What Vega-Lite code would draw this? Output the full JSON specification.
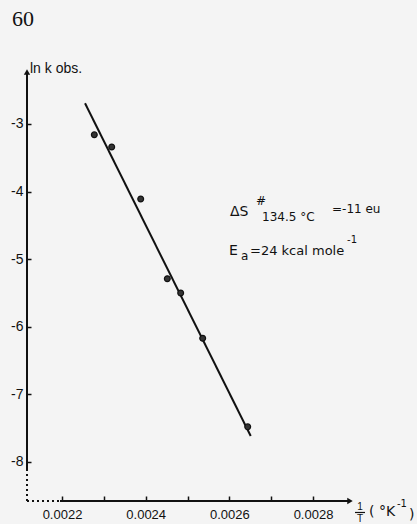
{
  "$schema": "https://vega.github.io/schema/vega-lite/v6.json",
  "width": 326,
  "height": 433,
  "autosize": {"type": "none"},
  "padding": {"left": 27, "top": 68, "right": 64, "bottom": 23},
  "background": "#f4f4f4",
  "config": {"view": {"stroke": null}, "font": "Liberation Sans"},
  "datasets": {
    "points": [
      {"x": 0.0022772, "y": -3.16},
      {"x": 0.0023188, "y": -3.34},
      {"x": 0.0023881, "y": -4.11},
      {"x": 0.0024517, "y": -5.29},
      {"x": 0.0024837, "y": -5.50},
      {"x": 0.0025363, "y": -6.17},
      {"x": 0.0026439, "y": -7.48}
    ],
    "fit": [
      {"x": 0.002255, "y": -2.694},
      {"x": 0.0026511, "y": -7.615}
    ],
    "axisSolid": [
      {"x": 0.0021163, "x2": 0.0021163, "y": -8.12, "y2": -2.24},
      {"x": 0.0021952, "x2": 0.002886, "y": -8.577, "y2": -8.577}
    ],
    "axisDotted": [
      {"x": 0.0021163, "x2": 0.0021163, "y": -8.577, "y2": -8.12},
      {"x": 0.0021163, "x2": 0.0021952, "y": -8.577, "y2": -8.577}
    ],
    "arrowUp": [{"x": 0.0021163, "y": -2.231}],
    "arrowRight": [{"x": 0.0028884, "y": -8.577}],
    "fracBar": [{"x": 0.0029004, "x2": 0.0029243, "y": -8.747, "y2": -8.747}],
    "text13": [
      {"x": 0.0026016, "y": -4.361, "t": "ΔS"},
      {"x": 0.0025992, "y": -4.938, "t": "E"},
      {"x": 0.0029338, "y": -8.799, "t": "( °K"},
      {"x": 0.0030295, "y": -8.843, "t": ")"}
    ],
    "textLn": [
      {"x": 0.0021235, "y": -2.246, "t": "ln k obs."}
    ],
    "text11": [
      {"x": 0.0026637, "y": -4.198, "t": "#"},
      {"x": 0.0026781, "y": -4.435, "t": "134.5 °C"},
      {"x": 0.0028454, "y": -4.317, "t": "=-11 eu"},
      {"x": 0.0026279, "y": -5.012, "t": "a"}
    ],
    "text12": [
      {"x": 0.0026494, "y": -4.938, "t": "=24 kcal  mole"}
    ],
    "text9": [
      {"x": 0.0028813, "y": -4.760, "t": "-1"},
      {"x": 0.0030008, "y": -8.666, "t": "-1"}
    ],
    "frac": [
      {"x": 0.0029123, "y": -8.710, "t": "1"},
      {"x": 0.0029123, "y": -8.888, "t": "T"}
    ],
    "page": [{"x": 0.0020805, "y": -1.550, "t": "60"}]
  },
  "layer": [
    {
      "data": {"name": "axisSolid"},
      "mark": {"type": "rule", "color": "#111", "strokeWidth": 2},
      "encoding": {
        "x": {
          "field": "x", "type": "quantitative",
          "scale": {"domain": [0.0021163, 0.0028956], "nice": false, "zero": false},
          "axis": {
            "orient": "bottom", "title": null, "domain": false, "grid": false,
            "values": [0.0022, 0.0023, 0.0024, 0.0025, 0.0026, 0.0027, 0.0028],
            "tickSize": -5, "tickColor": "#111", "tickWidth": 1.5,
            "labelPadding": 12, "labelFontSize": 13, "labelColor": "#111", "labelFont": "Liberation Sans",
            "labelExpr": "round(datum.value * 10000) % 2 == 0 ? format(datum.value, '.4f') : ''"
          }
        },
        "x2": {"field": "x2"},
        "y": {
          "field": "y", "type": "quantitative",
          "scale": {"domain": [-8.577, -2.172], "nice": false, "zero": false},
          "axis": {
            "orient": "left", "title": null, "domain": false, "grid": false,
            "values": [-8, -7, -6, -5, -4, -3],
            "tickSize": -4, "tickColor": "#111", "tickWidth": 1.5,
            "labelPadding": 8, "labelFontSize": 14, "labelColor": "#111", "labelFont": "Liberation Sans",
            "labelExpr": "'-' + abs(datum.value)"
          }
        },
        "y2": {"field": "y2"}
      }
    },
    {
      "data": {"name": "axisDotted"},
      "mark": {"type": "rule", "color": "#111", "strokeWidth": 2, "strokeDash": [2, 3]},
      "encoding": {
        "x": {"field": "x", "type": "quantitative"},
        "x2": {"field": "x2"},
        "y": {"field": "y", "type": "quantitative"},
        "y2": {"field": "y2"}
      }
    },
    {
      "data": {"name": "fracBar"},
      "mark": {"type": "rule", "color": "#111", "strokeWidth": 1.2},
      "encoding": {
        "x": {"field": "x", "type": "quantitative"},
        "x2": {"field": "x2"},
        "y": {"field": "y", "type": "quantitative"},
        "y2": {"field": "y2"}
      }
    },
    {
      "data": {"name": "arrowUp"},
      "mark": {"type": "point", "shape": "triangle-up", "filled": true, "color": "#111", "size": 40, "opacity": 1},
      "encoding": {
        "x": {"field": "x", "type": "quantitative"},
        "y": {"field": "y", "type": "quantitative"}
      }
    },
    {
      "data": {"name": "arrowRight"},
      "mark": {"type": "point", "shape": "triangle-right", "filled": true, "color": "#111", "size": 40, "opacity": 1},
      "encoding": {
        "x": {"field": "x", "type": "quantitative"},
        "y": {"field": "y", "type": "quantitative"}
      }
    },
    {
      "data": {"name": "fit"},
      "mark": {"type": "line", "color": "#111", "strokeWidth": 2},
      "encoding": {
        "x": {"field": "x", "type": "quantitative"},
        "y": {"field": "y", "type": "quantitative"}
      }
    },
    {
      "data": {"name": "points"},
      "mark": {"type": "point", "shape": "circle", "filled": true, "color": "#333", "size": 34, "opacity": 1, "stroke": "#111", "strokeWidth": 1.2},
      "encoding": {
        "x": {"field": "x", "type": "quantitative"},
        "y": {"field": "y", "type": "quantitative"}
      }
    },
    {
      "data": {"name": "text13"},
      "mark": {"type": "text", "align": "left", "baseline": "alphabetic", "fontSize": 14, "font": "DejaVu Sans", "color": "#111"},
      "encoding": {
        "x": {"field": "x", "type": "quantitative"},
        "y": {"field": "y", "type": "quantitative"},
        "text": {"field": "t"}
      }
    },
    {
      "data": {"name": "textLn"},
      "mark": {"type": "text", "align": "left", "baseline": "alphabetic", "fontSize": 14, "color": "#111"},
      "encoding": {
        "x": {"field": "x", "type": "quantitative"},
        "y": {"field": "y", "type": "quantitative"},
        "text": {"field": "t"}
      }
    },
    {
      "data": {"name": "text11"},
      "mark": {"type": "text", "align": "left", "baseline": "alphabetic", "fontSize": 12, "font": "DejaVu Sans", "color": "#111"},
      "encoding": {
        "x": {"field": "x", "type": "quantitative"},
        "y": {"field": "y", "type": "quantitative"},
        "text": {"field": "t"}
      }
    },
    {
      "data": {"name": "text12"},
      "mark": {"type": "text", "align": "left", "baseline": "alphabetic", "fontSize": 13, "font": "DejaVu Sans", "color": "#111"},
      "encoding": {
        "x": {"field": "x", "type": "quantitative"},
        "y": {"field": "y", "type": "quantitative"},
        "text": {"field": "t"}
      }
    },
    {
      "data": {"name": "text9"},
      "mark": {"type": "text", "align": "left", "baseline": "alphabetic", "fontSize": 10, "font": "DejaVu Sans", "color": "#111"},
      "encoding": {
        "x": {"field": "x", "type": "quantitative"},
        "y": {"field": "y", "type": "quantitative"},
        "text": {"field": "t"}
      }
    },
    {
      "data": {"name": "frac"},
      "mark": {"type": "text", "align": "center", "baseline": "alphabetic", "fontSize": 10, "color": "#111"},
      "encoding": {
        "x": {"field": "x", "type": "quantitative"},
        "y": {"field": "y", "type": "quantitative"},
        "text": {"field": "t"}
      }
    },
    {
      "data": {"name": "page"},
      "mark": {"type": "text", "align": "left", "baseline": "alphabetic", "fontSize": 22, "font": "Liberation Serif", "color": "#111"},
      "encoding": {
        "x": {"field": "x", "type": "quantitative"},
        "y": {"field": "y", "type": "quantitative"},
        "text": {"field": "t"}
      }
    }
  ]
}
